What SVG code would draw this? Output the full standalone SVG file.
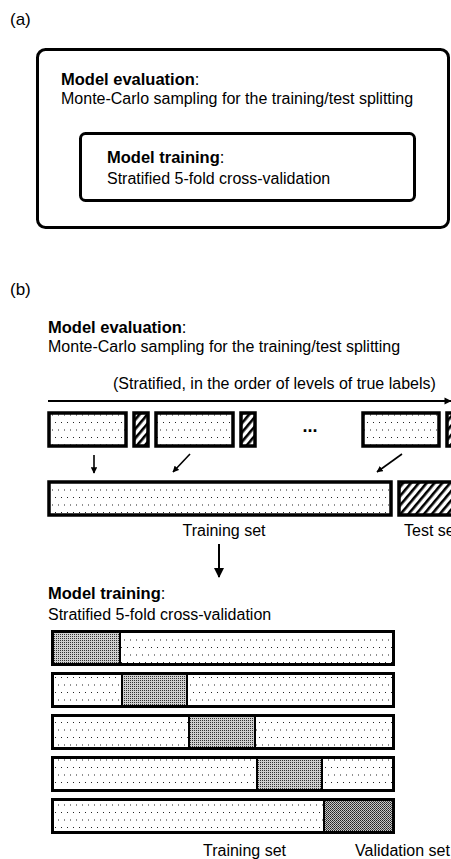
<svg xmlns="http://www.w3.org/2000/svg" width="451" height="859" viewBox="0 0 451 859">
<style>
text{font-family:"Liberation Sans",Arial,sans-serif;fill:#000}
.h{font-weight:bold;font-size:16.5px}
.b{font-size:16px}
.lab{font-size:17px}
.box{stroke:#000;stroke-width:3;fill:#fff}
.tr{stroke:#000;stroke-width:3.5;fill:url(#dots)}
.ht{stroke:#000;stroke-width:3.5;fill:url(#hatch)}
.ln{stroke:#000;stroke-width:2;fill:none}
.sep{stroke:#000;stroke-width:2}
.frame{fill:none;stroke:#000;stroke-width:3}
</style>
<defs>
<pattern id="dots" width="6" height="15" patternUnits="userSpaceOnUse">
<rect width="6" height="15" fill="#fff"/>
<rect x="1" y="2" width="1" height="1" fill="#222"/>
<rect x="4" y="9.5" width="1" height="1" fill="#222"/>
</pattern>
<pattern id="gray" width="2" height="2" patternUnits="userSpaceOnUse">
<rect width="2" height="2" fill="#d0d0d0"/>
<rect width="1" height="1" fill="#333"/>
</pattern>
<pattern id="dark" width="2" height="2" patternUnits="userSpaceOnUse">
<rect width="2" height="2" fill="#c8c8c8"/>
<rect width="1" height="1" fill="#222"/>
<rect x="1" y="1" width="1" height="1" fill="#444"/>
</pattern>
<pattern id="hatch" width="6" height="6" patternUnits="userSpaceOnUse" patternTransform="rotate(40)">
<rect width="6" height="6" fill="#fff"/>
<rect width="2.6" height="6" fill="#000"/>
</pattern>
<marker id="ah" viewBox="0 0 10 10" refX="9" refY="5" markerWidth="4" markerHeight="4" orient="auto" markerUnits="strokeWidth">
<path d="M0,0 L10,5 L0,10 z" fill="#000"/>
</marker>
<marker id="ahs" viewBox="0 0 10 10" refX="9" refY="5" markerWidth="4" markerHeight="3.6" orient="auto" markerUnits="strokeWidth">
<path d="M0,0 L10,5 L0,10 z" fill="#000"/>
</marker>
<marker id="ahb" viewBox="0 0 10 10" refX="9" refY="5" markerWidth="6" markerHeight="5" orient="auto" markerUnits="strokeWidth">
<path d="M0,0 L10,5 L0,10 z" fill="#000"/>
</marker>
</defs>

<g id="panel-a">
<text x="10" y="25" class="lab">(a)</text>
<g id="outer-box">
<rect x="37.5" y="49.5" width="411" height="178" rx="8" class="box"/>
<text x="61" y="85" class="h">Model evaluation<tspan font-weight="normal">:</tspan></text>
<text x="61" y="104" class="b">Monte-Carlo sampling for the training/test splitting</text>
</g>
<g id="inner-box">
<rect x="80.5" y="133.5" width="334" height="67" rx="5" class="box"/>
<text x="107" y="163" class="h">Model training<tspan font-weight="normal">:</tspan></text>
<text x="107" y="184" class="b">Stratified 5-fold cross-validation</text>
</g>
</g>

<g id="panel-b">
<text x="10" y="295" class="lab">(b)</text>
<g id="eval-title">
<text x="48" y="333" class="h">Model evaluation<tspan font-weight="normal">:</tspan></text>
<text x="48" y="352" class="b">Monte-Carlo sampling for the training/test splitting</text>
</g>
<text x="113" y="389" class="b">(Stratified, in the order of levels of true labels)</text>
<g id="strata">
<rect x="49" y="413" width="77" height="33" class="tr"/>
<rect x="134" y="413" width="14" height="33" class="ht"/>
<rect x="156" y="413" width="77" height="33" class="tr"/>
<rect x="241" y="413" width="14" height="33" class="ht"/>
<text x="310" y="432" text-anchor="middle" style="font-size:18px;font-weight:bold">...</text>
<rect x="363" y="413" width="76" height="33" class="tr"/>
<rect x="447" y="413" width="14" height="33" class="ht"/>
</g>
<g id="training-set">
<rect x="49" y="482" width="342" height="33" class="tr"/>
<text x="224" y="536" text-anchor="middle" class="b">Training set</text>
</g>
<g id="test-set">
<rect x="399" y="482" width="60" height="33" class="ht"/>
<text x="404" y="536" class="b">Test set</text>
</g>
<g id="train-title">
<text x="48" y="599" class="h">Model training<tspan font-weight="normal">:</tspan></text>
<text x="48" y="620" class="b">Stratified 5-fold cross-validation</text>
</g>
<g id="cv-folds">
<g id="fold1">
<rect x="53" y="631" width="340" height="34" fill="url(#dots)"/>
<rect x="53" y="631" width="66" height="34" fill="url(#gray)"/>
<line x1="120" y1="631" x2="120" y2="665" class="sep"/>
<rect x="52.5" y="631.5" width="341" height="33" class="frame"/>
</g>
<g id="fold2">
<rect x="53" y="673" width="340" height="34" fill="url(#dots)"/>
<rect x="122" y="673" width="64" height="34" fill="url(#gray)"/>
<line x1="122" y1="673" x2="122" y2="707" class="sep"/>
<line x1="187" y1="673" x2="187" y2="707" class="sep"/>
<rect x="52.5" y="673.5" width="341" height="33" class="frame"/>
</g>
<g id="fold3">
<rect x="53" y="715" width="340" height="34" fill="url(#dots)"/>
<rect x="190" y="715" width="64" height="34" fill="url(#gray)"/>
<line x1="189" y1="715" x2="189" y2="749" class="sep"/>
<line x1="255" y1="715" x2="255" y2="749" class="sep"/>
<rect x="52.5" y="715.5" width="341" height="33" class="frame"/>
</g>
<g id="fold4">
<rect x="53" y="757" width="340" height="34" fill="url(#dots)"/>
<rect x="258" y="757" width="63" height="34" fill="url(#gray)"/>
<line x1="257" y1="757" x2="257" y2="791" class="sep"/>
<line x1="322" y1="757" x2="322" y2="791" class="sep"/>
<rect x="52.5" y="757.5" width="341" height="33" class="frame"/>
</g>
<g id="fold5">
<rect x="53" y="799" width="340" height="34" fill="url(#dots)"/>
<rect x="324" y="799" width="69" height="34" fill="url(#dark)"/>
<line x1="324" y1="799" x2="324" y2="833" class="sep"/>
<rect x="52.5" y="799.5" width="341" height="33" class="frame"/>
</g>
<text x="203" y="856" class="b">Training set</text>
<text x="355" y="856" class="b">Validation set</text>
</g>
</g>

<g id="connectors">
<line x1="48" y1="401" x2="451" y2="401" class="ln" marker-end="url(#ahs)"/>
<line x1="94" y1="455" x2="94" y2="473" stroke="#000" stroke-width="1.6" marker-end="url(#ah)"/>
<line x1="190" y1="454" x2="173" y2="472" stroke="#000" stroke-width="1.6" marker-end="url(#ah)"/>
<line x1="402" y1="454" x2="377" y2="472" stroke="#000" stroke-width="1.6" marker-end="url(#ah)"/>
<line x1="219" y1="544" x2="219" y2="577" class="ln" marker-end="url(#ahb)"/>
</g>
</svg>
